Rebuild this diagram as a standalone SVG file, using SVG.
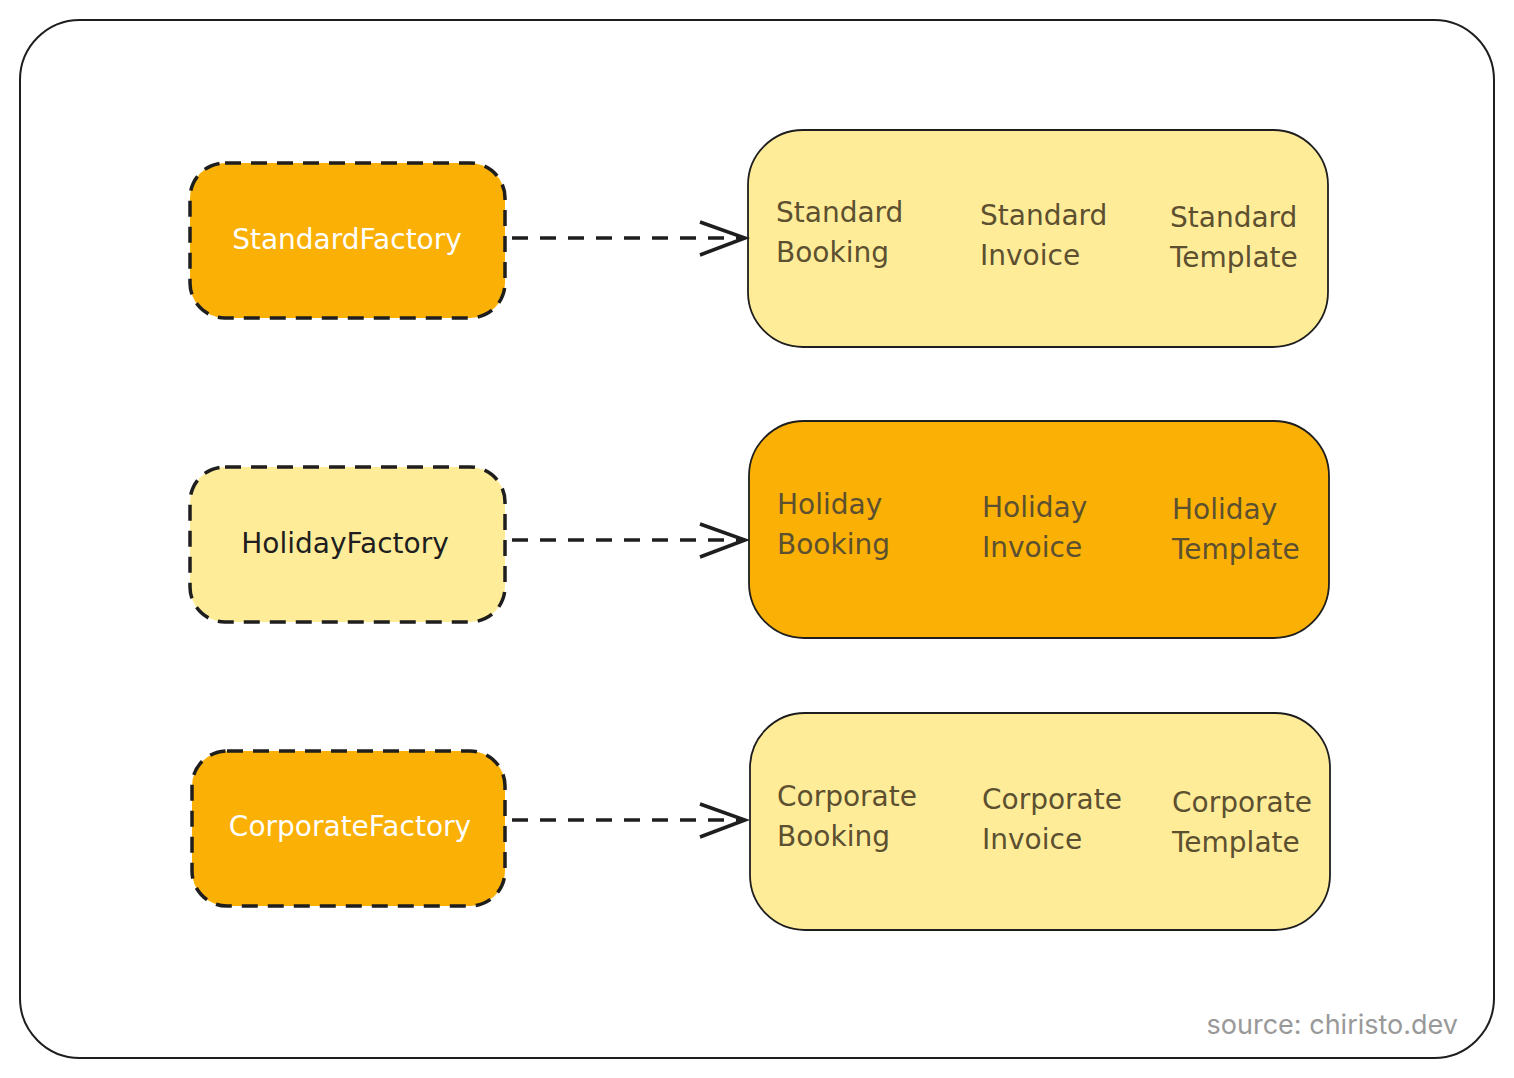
<svg xmlns="http://www.w3.org/2000/svg" width="1514" height="1078" viewBox="0 0 1514 1078">
<style>
.fac{stroke:#1e1e1e;stroke-width:3.5;stroke-dasharray:16 10}
.grp{stroke:#1e1e1e;stroke-width:1.8}
.or{fill:#fab005}.ye{fill:#ffec99}
.t{font-family:"DejaVu Sans",sans-serif;font-size:28px}
.lb{font-family:"DejaVu Sans",sans-serif;font-size:28px;fill:#5c5030}
.c{stroke:#1e1e1e;stroke-width:3.5;fill:none}
</style>
<rect x="20" y="20" width="1474" height="1038" rx="60" fill="#fff" stroke="#1e1e1e" stroke-width="2"/>
<g id="standardFactory"><rect class="fac or" x="190" y="163" width="315" height="155" rx="35"/><text class="t" x="347" y="249" text-anchor="middle" fill="#fff">StandardFactory</text></g>
<g id="holidayFactory"><rect class="fac ye" x="190" y="467" width="315" height="155" rx="35"/><text class="t" x="345" y="553" text-anchor="middle" fill="#1e1e1e">HolidayFactory</text></g>
<g id="corporateFactory"><rect class="fac or" x="192" y="751" width="313" height="155" rx="35"/><text class="t" x="350" y="836" text-anchor="middle" fill="#fff">CorporateFactory</text></g>
<g id="standardProducts"><rect class="grp ye" x="748" y="130" width="580" height="217" rx="55"/>
<text class="lb" x="776" y="222">Standard<tspan x="776" dy="40">Booking</tspan></text>
<text class="lb" x="980" y="225">Standard<tspan x="980" dy="40">Invoice</tspan></text>
<text class="lb" x="1170" y="227">Standard<tspan x="1170" dy="40">Template</tspan></text></g>
<g id="holidayProducts"><rect class="grp or" x="749" y="421" width="580" height="217" rx="55"/>
<text class="lb" x="777" y="514">Holiday<tspan x="777" dy="40">Booking</tspan></text>
<text class="lb" x="982" y="517">Holiday<tspan x="982" dy="40">Invoice</tspan></text>
<text class="lb" x="1172" y="519">Holiday<tspan x="1172" dy="40">Template</tspan></text></g>
<g id="corporateProducts"><rect class="grp ye" x="750" y="713" width="580" height="217" rx="55"/>
<text class="lb" x="777" y="806">Corporate<tspan x="777" dy="40">Booking</tspan></text>
<text class="lb" x="982" y="809">Corporate<tspan x="982" dy="40">Invoice</tspan></text>
<text class="lb" x="1172" y="812">Corporate<tspan x="1172" dy="40">Template</tspan></text></g>
<g id="connectors">
<path class="c" d="M512 238H745" stroke-dasharray="16 12"/><path class="c" d="M700 222L745 238L700 255"/>
<path class="c" d="M512 540H745" stroke-dasharray="16 12"/><path class="c" d="M700 524L745 540L700 557"/>
<path class="c" d="M512 820H745" stroke-dasharray="16 12"/><path class="c" d="M700 804L745 820L700 837"/>
</g>
<text x="1458" y="1034" text-anchor="end" font-family="Inter,sans-serif" font-size="27" fill="#999">source: chiristo.dev</text>
</svg>
